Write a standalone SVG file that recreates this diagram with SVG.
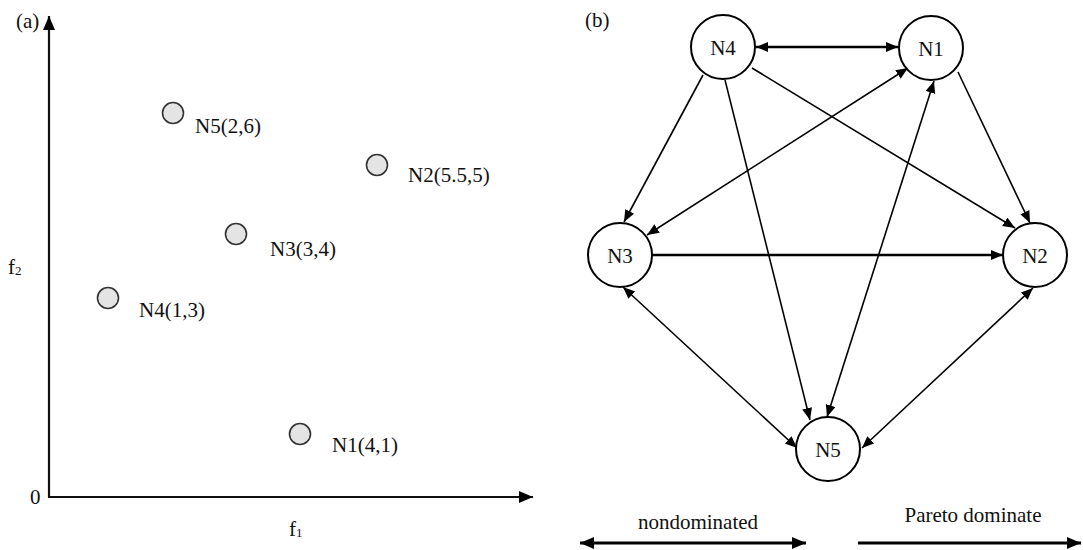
<svg xmlns="http://www.w3.org/2000/svg" width="1083" height="550" viewBox="0 0 1083 550">
<style>
text{font-family:"Liberation Serif","Times New Roman",serif;fill:#111;}
.lbl{font-size:21px;}
.nlbl{font-size:21px;text-anchor:middle;}
.pt{fill:#e4e4e4;stroke:#333;stroke-width:1.6;}
.node{fill:#fff;stroke:#000;stroke-width:2;}
.e{stroke:#000;stroke-width:1.6;fill:none;}
.eb{stroke:#000;stroke-width:2.4;fill:none;}
.ax{stroke:#111;stroke-width:2.2;fill:none;}
.lg{stroke:#000;stroke-width:3;fill:none;}
</style>
<defs>
<marker id="ah" markerUnits="userSpaceOnUse" markerWidth="14" markerHeight="12" refX="12" refY="5" orient="auto-start-reverse" viewBox="0 0 14 12">
<path d="M0,0 L12,5 L0,10 z" fill="#000"/>
</marker>
<marker id="ahl" markerUnits="userSpaceOnUse" markerWidth="16" markerHeight="14" refX="14" refY="6" orient="auto-start-reverse" viewBox="0 0 16 14">
<path d="M0,0 L14,6 L0,12 z" fill="#000"/>
</marker>
</defs>
<rect width="1083" height="550" fill="#fff"/>

<g id="panel-a">
<text class="lbl" x="16" y="28">(a)</text>
<line class="ax" x1="49" y1="497" x2="49" y2="16" marker-end="url(#ahl)"/>
<line class="ax" x1="48" y1="497" x2="533" y2="497" marker-end="url(#ahl)"/>
<text class="lbl" x="30" y="504">0</text>
<text class="lbl" x="8" y="274">f<tspan font-size="13" dy="1">2</tspan></text>
<text class="lbl" x="289" y="536">f<tspan font-size="13" dy="1">1</tspan></text>
<g id="pt-n5"><circle class="pt" cx="173" cy="113" r="10.5"/><text class="lbl" x="195" y="133">N5(2,6)</text></g>
<g id="pt-n2"><circle class="pt" cx="377" cy="165" r="10.5"/><text class="lbl" x="408" y="182">N2(5.5,5)</text></g>
<g id="pt-n3"><circle class="pt" cx="236" cy="234" r="10.5"/><text class="lbl" x="270" y="256">N3(3,4)</text></g>
<g id="pt-n4"><circle class="pt" cx="108" cy="298" r="10.5"/><text class="lbl" x="139" y="317">N4(1,3)</text></g>
<g id="pt-n1"><circle class="pt" cx="300" cy="434" r="10.5"/><text class="lbl" x="332" y="452">N1(4,1)</text></g>
</g>

<text class="lbl" x="585" y="27">(b)</text>

<g id="connectors">
<line class="eb" x1="756" y1="47" x2="898" y2="47" marker-start="url(#ah)" marker-end="url(#ah)"/>
<line class="e" x1="703" y1="75" x2="624" y2="222" marker-end="url(#ah)"/>
<line class="e" x1="725" y1="80" x2="810" y2="420" marker-end="url(#ah)"/>
<line class="e" x1="752" y1="68" x2="1015" y2="228" marker-end="url(#ah)"/>
<line class="e" x1="908" y1="68" x2="647" y2="235" marker-start="url(#ah)" marker-end="url(#ah)"/>
<line class="e" x1="934" y1="81" x2="827" y2="417" marker-start="url(#ah)" marker-end="url(#ah)"/>
<line class="e" x1="958" y1="72" x2="1030" y2="223" marker-end="url(#ah)"/>
<line class="eb" x1="652" y1="255" x2="1003" y2="255" marker-end="url(#ah)"/>
<line class="e" x1="623" y1="287" x2="797" y2="448" marker-start="url(#ah)" marker-end="url(#ah)"/>
<line class="e" x1="1033" y1="288" x2="862" y2="448" marker-start="url(#ah)" marker-end="url(#ah)"/>
</g>

<g id="node-n4"><circle class="node" cx="723" cy="47" r="32"/><text class="nlbl" x="723" y="55">N4</text></g>
<g id="node-n1"><circle class="node" cx="931" cy="48" r="32"/><text class="nlbl" x="931" y="56">N1</text></g>
<g id="node-n3"><circle class="node" cx="620" cy="255" r="32"/><text class="nlbl" x="620" y="263">N3</text></g>
<g id="node-n2"><circle class="node" cx="1035" cy="255" r="32"/><text class="nlbl" x="1035" y="263">N2</text></g>
<g id="node-n5"><circle class="node" cx="828" cy="449" r="32"/><text class="nlbl" x="828" y="457">N5</text></g>

<g id="legend">
<text class="nlbl" x="698" y="529">nondominated</text>
<line class="lg" x1="580" y1="543" x2="806" y2="543" marker-start="url(#ahl)" marker-end="url(#ahl)"/>
<text class="nlbl" x="973" y="522">Pareto dominate</text>
<line class="lg" x1="858" y1="543" x2="1081" y2="543" marker-end="url(#ahl)"/>
</g>
</svg>
